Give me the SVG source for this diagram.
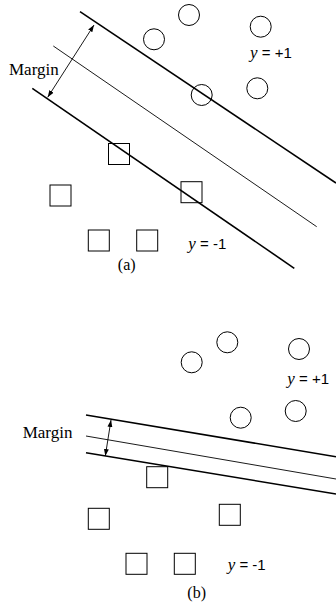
<svg xmlns="http://www.w3.org/2000/svg" width="336" height="606" viewBox="0 0 336 606">
<style>
.pt{fill:none;stroke:#000;stroke-width:1}
.thick{stroke:#000;stroke-width:1.6;fill:none}
.thin{stroke:#000;stroke-width:0.9;fill:none}
.arr{stroke:#000;stroke-width:0.9;fill:none;marker-start:url(#ah);marker-end:url(#ah)}
.serif{font-family:"Liberation Serif","Times New Roman",Times,serif;fill:#000}
.sans{font-family:"Liberation Sans",Arial,Helvetica,sans-serif;fill:#000}
</style>
<defs>
<marker id="ah" viewBox="0 0 10 10" refX="10" refY="5" markerWidth="7" markerHeight="7" markerUnits="userSpaceOnUse" orient="auto-start-reverse">
<path d="M0,1.5 L10,5 L0,8.5 z" fill="#000"/>
</marker>
</defs>
<rect width="336" height="606" fill="#fff"/>
<g id="panel-a">
<g id="connectors-a">
<line class="thick" x1="80" y1="11.7" x2="336" y2="183"/>
<line class="thin" x1="53.3" y1="46" x2="316.7" y2="226.7"/>
<line class="thick" x1="32.3" y1="88.3" x2="294.3" y2="268.3"/>
<line class="arr" x1="47.7" y1="97.3" x2="94" y2="25"/>
</g>
<g id="circles-a">
<circle class="pt" cx="189" cy="15" r="10.5"/>
<circle class="pt" cx="154" cy="39.3" r="10.5"/>
<circle class="pt" cx="260.7" cy="26.7" r="10.5"/>
<circle class="pt" cx="201.7" cy="95" r="10.5"/>
<circle class="pt" cx="257.3" cy="88.3" r="10.5"/>
</g>
<g id="squares-a">
<rect class="pt" x="108.5" y="143.5" width="21" height="21"/>
<rect class="pt" x="50" y="185" width="21" height="21"/>
<rect class="pt" x="181" y="181.7" width="21" height="21"/>
<rect class="pt" x="88.3" y="230" width="21" height="21"/>
<rect class="pt" x="136.7" y="230" width="21" height="21"/>
</g>
<g id="labels-a">
<text class="serif" x="9" y="75" font-size="17">Margin</text>
<text x="250" y="57.5" font-size="15"><tspan class="serif" font-style="italic" font-size="17">y</tspan><tspan class="sans"> = +1</tspan></text>
<text x="188.3" y="248.5" font-size="15"><tspan class="serif" font-style="italic" font-size="17">y</tspan><tspan class="sans"> = -1</tspan></text>
<text class="serif" x="126.7" y="270" font-size="16" text-anchor="middle">(a)</text>
</g>
</g>
<g id="panel-b">
<g id="connectors-b">
<line class="thick" x1="86" y1="415" x2="336" y2="456.7"/>
<line class="thin" x1="86" y1="436" x2="336" y2="479"/>
<line class="thick" x1="86" y1="452.7" x2="336" y2="494"/>
<line class="arr" x1="105.3" y1="456" x2="111" y2="420"/>
</g>
<g id="circles-b">
<circle class="pt" cx="227.3" cy="342.3" r="10.5"/>
<circle class="pt" cx="191.7" cy="362.3" r="10.5"/>
<circle class="pt" cx="299" cy="349" r="10.5"/>
<circle class="pt" cx="240.7" cy="417.7" r="10.5"/>
<circle class="pt" cx="295.7" cy="411" r="10.5"/>
</g>
<g id="squares-b">
<rect class="pt" x="146.7" y="466.7" width="21" height="21"/>
<rect class="pt" x="88.3" y="508.3" width="21" height="21"/>
<rect class="pt" x="219.3" y="504.3" width="21" height="21"/>
<rect class="pt" x="126" y="553.3" width="21" height="21"/>
<rect class="pt" x="174.3" y="553.3" width="21" height="21"/>
</g>
<g id="labels-b">
<text class="serif" x="22.7" y="437.7" font-size="17">Margin</text>
<text x="287.3" y="384.3" font-size="15"><tspan class="serif" font-style="italic" font-size="17">y</tspan><tspan class="sans"> = +1</tspan></text>
<text x="227.7" y="570" font-size="15"><tspan class="serif" font-style="italic" font-size="17">y</tspan><tspan class="sans"> = -1</tspan></text>
<text class="serif" x="196.7" y="598.3" font-size="16" text-anchor="middle">(b)</text>
</g>
</g>
</svg>
